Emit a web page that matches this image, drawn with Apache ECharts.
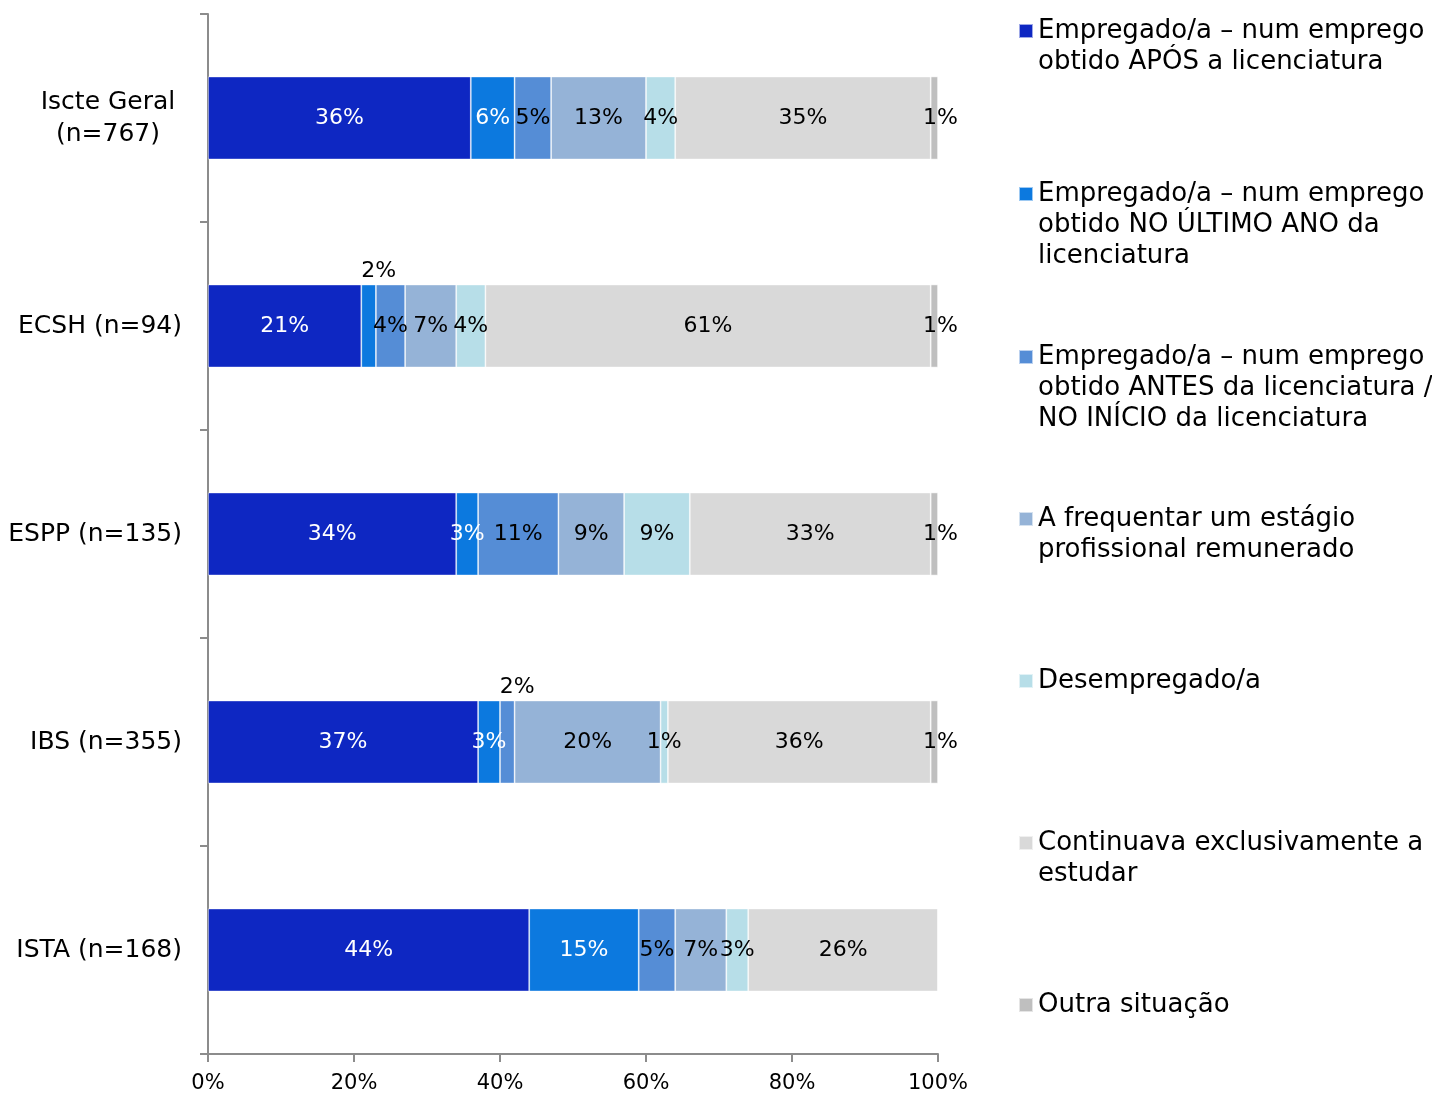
<!DOCTYPE html>
<html>
<head>
<meta charset="utf-8">
<script src="https://cdn.jsdelivr.net/npm/echarts@6/dist/echarts.min.js"></script>
<style>html,body{margin:0;padding:0;background:#fff}#c{width:1432px;height:1094px}</style>
</head>
<body>
<div id="c"></div>
<script>
const categories = ['Iscte Geral\n(n=767)', 'ECSH (n=94)', 'ESPP (n=135)', 'IBS (n=355)', 'ISTA (n=168)'];
const seriesNames = [
  'Empregado/a – num emprego\nobtido APÓS a licenciatura',
  'Empregado/a – num emprego\nobtido NO ÚLTIMO ANO da\nlicenciatura',
  'Empregado/a – num emprego\nobtido ANTES da licenciatura /\nNO INÍCIO da licenciatura',
  'A frequentar um estágio\nprofissional remunerado',
  'Desempregado/a',
  'Continuava exclusivamente a\nestudar',
  'Outra situação'
];
const apos      = [36, 21, 34, 37, 44];
const ultimoAno = [6, 2, 3, 3, 15];
const antes     = [5, 4, 11, 2, 5];
const estagio   = [13, 7, 9, 20, 7];
const desempregado = [4, 4, 9, 1, 3];
const estudar   = [35, 61, 33, 36, 26];
const outra     = [1, 1, 1, 1, 0];
const xTicks = [0, 20, 40, 60, 80, 100];

const values = [apos, ultimoAno, antes, estagio, desempregado, estudar, outra];
const colors = ['#0E27C2', '#0C79DF', '#558DD6', '#95B3D7', '#B7DEE8', '#D9D9D9', '#BFBFBF'];
const labelColors = ['#fff', '#fff', '#000', '#000', '#000', '#000', '#000'];
const labelOffsets = [[0, 0], [0, 0], [0, 0], [0, 0], [0, 0], [0, 0], [6, 0]];
// labels drawn above the bar: [category index, series index]
const labelsAbove = [[1, 1], [3, 2]];
const legendFirstLineY = [31, 194, 357, 519, 681, 843, 1005];

const FONT = 'DejaVu Sans';
const LH = 31;

const series = values.map((arr, si) => ({
  name: seriesNames[si],
  type: 'bar',
  stack: 'total',
  barWidth: 83,
  itemStyle: { color: colors[si], borderColor: 'rgba(255,255,255,0.6)', borderWidth: 0.8 },
  label: {
    show: true,
    position: 'inside',
    color: labelColors[si],
    offset: labelOffsets[si],
    fontFamily: FONT,
    fontSize: 22,
    formatter: p => (p.value > 0 ? p.value + '%' : '')
  },
  data: arr.map((v, ci) => {
    const above = labelsAbove.some(a => a[0] === ci && a[1] === si);
    return above ? { value: v, label: { position: 'top', distance: 2, color: '#000', offset: [10, 0] } } : v;
  })
}));

const legends = seriesNames.map((name, i) => {
  const n = name.split('\n').length;
  return {
    data: [name],
    orient: 'vertical',
    left: 1018,
    top: legendFirstLineY[i] - (2 * n - 1) * LH / 2,
    padding: 0,
    icon: 'rect',
    itemWidth: 14,
    itemHeight: 14,
    selectedMode: false,
    formatter: nm => '\n'.repeat(n - 1) + nm,
    textStyle: {
      fontFamily: FONT,
      fontSize: 26,
      color: '#000',
      lineHeight: LH
    }
  };
});

const chart = echarts.init(document.getElementById('c'), null, { renderer: 'canvas' });
chart.setOption({
  animation: false,
  backgroundColor: '#fff',
  textStyle: { fontFamily: FONT },
  grid: { left: 208, right: 494, top: 14, bottom: 38, containLabel: false },
  legend: legends,
  xAxis: {
    type: 'value',
    min: xTicks[0],
    max: xTicks[xTicks.length - 1],
    interval: xTicks[1] - xTicks[0],
    axisLine: { show: true, lineStyle: { color: '#8C8C8C', width: 2 } },
    axisTick: { show: true, length: 8, lineStyle: { color: '#8C8C8C', width: 2 } },
    splitLine: { show: false },
    axisLabel: { formatter: '{value}%', color: '#000', fontFamily: FONT, fontSize: 21, margin: 19 }
  },
  yAxis: {
    type: 'category',
    inverse: true,
    data: categories,
    axisLine: { show: true, lineStyle: { color: '#8C8C8C', width: 2 } },
    axisTick: { show: true, length: 8, interval: 0, lineStyle: { color: '#8C8C8C', width: 2 } },
    axisLabel: {
      color: '#000',
      fontFamily: FONT,
      fontSize: 25,
      lineHeight: 32,
      margin: 26,
      formatter: v => v.indexOf('\n') >= 0 ? v.split('\n').map(s => '{c|' + s + '}').join('\n') : v,
      rich: { c: { width: 148, align: 'center', fontFamily: FONT, fontSize: 25, lineHeight: 32, color: '#000' } }
    }
  },
  series: series
});
</script>
</body>
</html>
